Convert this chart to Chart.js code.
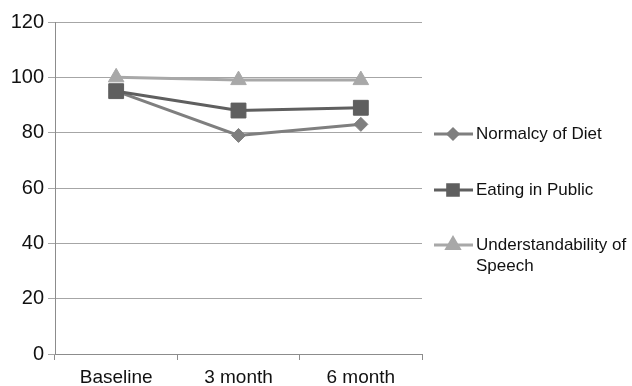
<!DOCTYPE html>
<html>
<head>
<meta charset="utf-8">
<script src="https://cdn.jsdelivr.net/npm/chart.js@4"></script>
<style>
  html, body { margin: 0; padding: 0; background: #fff; }
  #wrap { width: 632px; height: 386px; position: relative; }
</style>
</head>
<body>
<div id="wrap"><canvas id="c"></canvas></div>
<script>
// Time points and scores
const categories = ['Baseline', '3 month', '6 month'];
const normalcyOfDiet = [95, 79, 83];
const eatingInPublic = [95, 88, 89];
const understandability = [100, 99, 99];
const yTicks = [0, 20, 40, 60, 80, 100, 120];

const seriesNames = ['Normalcy of Diet', 'Eating in Public', ['Understandability of', 'Speech']];
const seriesColors = ['#7f7f7f', '#5f5f5f', '#a8a8a8'];
const seriesMarkers = ['rectRot', 'rect', 'triangle'];

const FONT = "'Liberation Sans', Arial, sans-serif";

// Legend drawn to the right of the plot: line with a marker, then the label
const sideLegend = {
  id: 'sideLegend',
  afterDraw(chart) {
    const ctx = chart.ctx;
    const rows = [134, 190, 245];
    const markerRadius = [5, 7.5, 7];
    ctx.save();
    chart.data.datasets.forEach((ds, i) => {
      const y = rows[i];
      ctx.strokeStyle = ds.borderColor;
      ctx.lineWidth = 3;
      ctx.beginPath();
      ctx.moveTo(434, y);
      ctx.lineTo(473, y);
      ctx.stroke();
      ctx.fillStyle = ds.backgroundColor;
      ctx.strokeStyle = ds.borderColor;
      Chart.helpers.drawPoint(ctx, {
        pointStyle: ds.pointStyle, radius: markerRadius[i], rotation: 0, borderWidth: 1
      }, 453, y);
      ctx.fillStyle = '#111';
      ctx.font = '17px ' + FONT;
      ctx.textAlign = 'left';
      ctx.textBaseline = 'middle';
      const lines = Array.isArray(ds.label) ? ds.label : [ds.label];
      lines.forEach((t, k) => ctx.fillText(t, 476, y + k * 21));
    });
    ctx.restore();
  }
};

const datasets = [normalcyOfDiet, eatingInPublic, understandability].map((vals, i) => ({
  label: seriesNames[i],
  data: vals,
  borderColor: seriesColors[i],
  backgroundColor: seriesColors[i],
  borderWidth: 3,
  pointStyle: seriesMarkers[i],
  pointRadius: [7, 10.5, 9][i],
  pointBorderWidth: 1,
  tension: 0,
  order: 2 - i
}));

new Chart(document.getElementById('c'), {
  type: 'line',
  data: { labels: categories, datasets },
  options: {
    responsive: true,
    maintainAspectRatio: false,
    animation: false,
    layout: { padding: { top: 22, right: 210, left: 0, bottom: 0 } },
    plugins: { legend: { display: false }, tooltip: { enabled: false } },
    scales: {
      x: {
        offset: true,
        afterFit(scale) { scale.height = 32; },
        grid: {
          offset: true,
          drawOnChartArea: false,
          drawTicks: true,
          tickLength: 6,
          color: '#8c8c8c'
        },
        border: { color: '#8c8c8c', width: 1 },
        ticks: { color: '#111', font: { family: FONT, size: 19 }, padding: 6 }
      },
      y: {
        min: 0,
        max: 120,
        afterFit(scale) { scale.width = 55; },
        afterBuildTicks(scale) { scale.ticks = yTicks.map(v => ({ value: v })); },
        grid: { color: '#a6a6a6', lineWidth: 1, tickLength: 7 },
        border: { color: '#8c8c8c', width: 1 },
        ticks: { color: '#111', font: { family: FONT, size: 20 }, padding: 4 }
      }
    }
  },
  plugins: [sideLegend]
});
</script>
</body>
</html>
